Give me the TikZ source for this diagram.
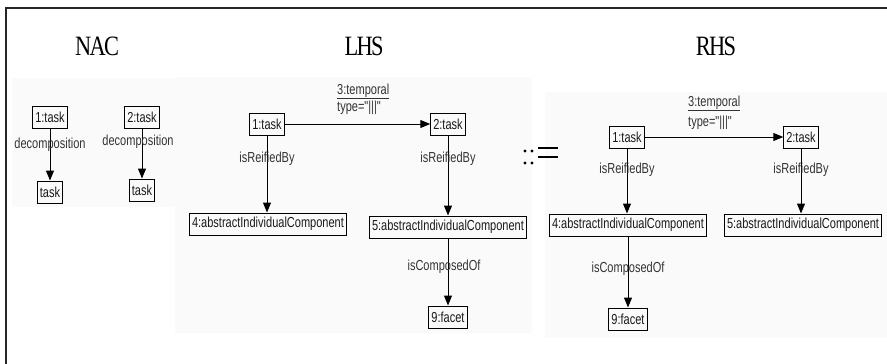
\documentclass[tikz,border=0pt]{standalone}
\usepackage{fontspec}
\setmainfont{Liberation Sans}
\newfontfamily\nfont[FakeStretch=0.76]{Liberation Sans}
\newfontfamily\tfont[FakeStretch=0.8, LetterSpace=-6]{Liberation Serif}
\usetikzlibrary{arrows.meta}
\tikzset{
  obj/.style={draw=black, line width=1pt, inner xsep=2.5pt, inner ysep=0pt, minimum height=22pt,
    font=\nfont\fontsize{14.5}{15}\selectfont, text=black!90},
  lbl/.style={font=\nfont\fontsize{14.5}{15}\selectfont, text=black!80, inner sep=0pt},
  conn/.style={draw=black, line width=1pt, -{Triangle[width=8pt,length=10pt]}},
  title/.style={font=\tfont\fontsize{28}{30}\selectfont, inner sep=0pt},
  panel/.style={fill=black!2, draw=none},
}
\begin{document}
\begin{tikzpicture}[x=1pt,y=-1pt]
\useasboundingbox (0,0) rectangle (887,364);
% panels
\fill[panel] (12,78) rectangle (177,207);
\fill[panel] (175,77) rectangle (532,333);
\fill[panel] (545,92) rectangle (887,338);
% frame
\draw[line width=1.5pt, black!85] (6,364) -- (6,8) -- (887,8);
% titles
\node[title, anchor=base] (tnac) at (97,55) {NAC};
\node[title, anchor=base] (tlhs) at (364,55) {LHS};
\node[title, anchor=base] (trhs) at (716,55) {RHS};
% NAC
\node[obj] (n1) at (50,117) {1:task};
\node[obj] (nt1) at (50,192) {task};
\node[obj] (n2) at (142,117) {2:task};
\node[obj] (nt2) at (142,190) {task};
\draw[conn] (n1.south) -- node[lbl, pos=0.31] {decomposition} (nt1.north);
\draw[conn] (n2.south) -- node[lbl, pos=0.27, xshift=-4pt] {decomposition} (nt2.north);
% LHS
\node[obj] (l1) at (267,124) {1:task};
\node[obj] (l2) at (448,124) {2:task};
\node[obj] (l4) at (268,224) {4:abstractIndividualComponent};
\node[obj] (l5) at (448,227) {5:abstractIndividualComponent};
\node[obj] (l9) at (448,317) {9:facet};
\draw[conn] (l1.east) -- (l2.west);
\node[lbl, anchor=base west] (lt) at (337,94) {\underline{3:temporal}};
\node[lbl, anchor=base west] (ly) at (337,111) {type="|||"};
\draw[conn] (l1.south) -- node[lbl, pos=0.30] {isReifiedBy} (l1.south |- l4.north);
\draw[conn] (l2.south) -- node[lbl, pos=0.29] {isReifiedBy} (l2.south |- l5.north);
\draw[conn] (l5.south) -- node[lbl, pos=0.42, xshift=-4pt] {isComposedOf} (l5.south |- l9.north);
% ::=
\foreach \px/\py in {525/151,532/151,525/163,532/163}
  \fill (\px,\py) circle (1.7pt);
\draw[line width=1.5pt] (538,148) -- (558,148);
\draw[line width=1.5pt] (538,157) -- (558,157);
% RHS
\node[obj] (r1) at (627,137) {1:task};
\node[obj] (r2) at (801,137) {2:task};
\node[obj] (r4) at (628,225) {4:abstractIndividualComponent};
\node[obj] (r5) at (803,225) {5:abstractIndividualComponent};
\node[obj] (r9) at (628,319) {9:facet};
\draw[conn] (r1.east) -- (r2.west);
\node[lbl, anchor=base west] (rt) at (688,106) {\underline{3:temporal}};
\node[lbl, anchor=base west] (ry) at (688,126) {type="|||"};
\draw[conn] (r1.south) -- node[lbl, pos=0.33] {isReifiedBy} (r1.south |- r4.north);
\draw[conn] (r2.south) -- node[lbl, pos=0.33] {isReifiedBy} (r2.south |- r5.north);
\draw[conn] (r4.south) -- node[lbl, pos=0.45] {isComposedOf} (r4.south |- r9.north);
\end{tikzpicture}
\end{document}
